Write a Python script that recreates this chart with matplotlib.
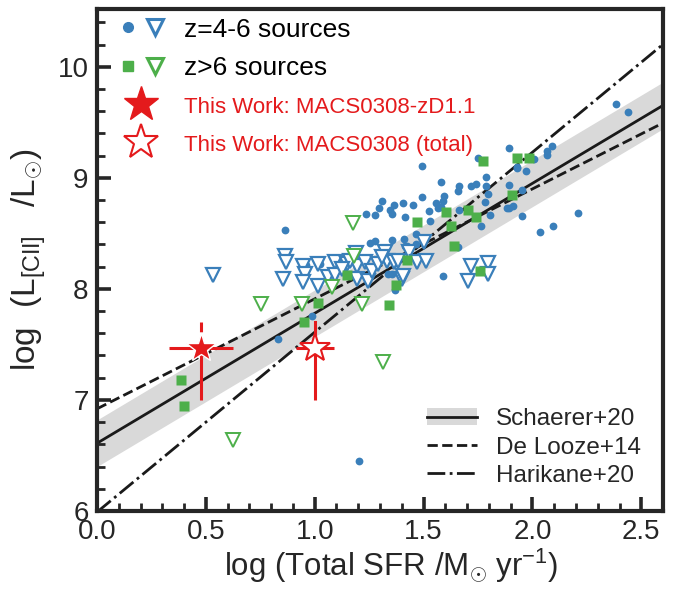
import numpy as np
import matplotlib
matplotlib.use("Agg")
import matplotlib.pyplot as plt
from matplotlib.lines import Line2D
from matplotlib.patches import Patch
from matplotlib.legend_handler import HandlerTuple
from matplotlib.ticker import MultipleLocator

plt.rcParams['font.family'] = ['Liberation Sans', 'DejaVu Sans']
plt.rcParams['mathtext.fontset'] = 'custom'
plt.rcParams['mathtext.rm'] = 'Liberation Sans'
plt.rcParams['mathtext.it'] = 'Liberation Sans:italic'
plt.rcParams['mathtext.bf'] = 'Liberation Sans:bold'

BLUE = '#3a7fba'
GREEN = '#4daf4a'
RED = '#e41a1c'
DARK = '#262626'

# ---------------- data ----------------
# z=4-6 detections (blue circles)
blue_det_x = [0.862, 0.830, 0.986, 1.202, 1.234, 1.275, 1.294, 1.307, 1.344, 1.353,
              1.362, 1.404, 1.413, 1.252, 1.275, 1.353, 1.408, 1.413, 1.110, 0.940,
              0.959, 1.023, 1.335, 1.367, 1.491, 1.578, 1.656, 1.665, 1.720, 1.743,
              1.789, 1.748, 1.894, 1.927, 1.972, 1.789, 1.794, 1.784, 1.894, 1.950,
              1.894, 1.913, 1.950, 1.495, 1.450, 1.523, 1.555, 1.587, 1.592, 1.564,
              1.528, 1.665, 1.766, 1.807, 1.463, 1.422, 1.656, 1.587, 2.385, 2.440,
              2.092, 2.069, 2.069, 2.005, 1.931, 2.211, 2.096, 2.037, 1.885, 1.578,
              1.463, 1.353]
blue_det_y = [8.534, 7.548, 7.756, 6.452, 8.670, 8.661, 8.724, 8.787, 8.706, 8.670,
              8.757, 8.769, 8.643, 8.416, 8.434, 8.443, 8.452, 8.389, 8.281, 8.226,
              8.217, 8.226, 8.136, 7.991, 9.104, 8.959, 8.878, 8.923, 8.923, 8.941,
              9.005, 9.176, 9.267, 9.086, 9.059, 8.923, 8.851, 8.778, 8.932, 8.887,
              8.724, 8.742, 8.652, 8.824, 8.751, 8.697, 8.769, 8.787, 8.833, 8.724,
              8.615, 8.706, 8.570, 8.661, 8.498, 8.389, 8.380, 8.118, 9.665, 9.593,
              9.285, 9.240, 9.204, 9.167, 9.095, 8.679, 8.570, 8.516, 8.724, 8.733,
              8.407, 8.136]

# z=4-6 upper limits (blue open triangles)
blue_lim_x = [0.532, 0.862, 0.867, 0.853, 0.945, 0.954, 0.945, 1.014, 1.014, 1.060,
              1.092, 1.092, 1.147, 1.188, 1.193, 1.193, 1.229, 1.243, 1.261, 1.289,
              1.321, 1.330, 1.362, 1.399, 1.431, 1.381, 1.500, 1.472, 1.509, 1.404,
              1.716, 1.702, 1.798, 1.798, 1.307, 1.161, 1.124]
blue_lim_y = [8.127, 8.299, 8.244, 8.090, 8.208, 8.136, 8.063, 8.226, 8.027, 8.109,
              8.244, 8.127, 8.226, 8.326, 8.208, 8.090, 8.244, 8.072, 8.163, 8.226,
              8.335, 8.253, 8.244, 8.090, 8.335, 8.253, 8.425, 8.244, 8.253, 8.118,
              8.208, 8.072, 8.235, 8.136, 8.290, 8.253, 8.181]

# z>6 detections (green squares)
green_det_x = [0.385, 0.399, 0.950, 1.014, 1.147, 1.372, 1.339, 1.422, 1.771, 1.931,
               1.982, 1.908, 1.601, 1.702, 1.743, 1.468, 1.628, 1.638, 1.757]
green_det_y = [7.176, 6.941, 7.701, 7.873, 8.127, 8.036, 7.855, 8.262, 9.149, 9.176,
               9.176, 8.842, 8.688, 8.706, 8.643, 8.606, 8.570, 8.389, 8.163]

# z>6 upper limits (green open triangles)
green_lim_x = [1.174, 0.752, 0.940, 1.078, 1.179, 1.216, 1.312, 0.624]
green_lim_y = [8.597, 7.864, 7.864, 8.018, 8.299, 7.864, 7.339, 6.643]

# This work: MACS0308-zD1.1 (filled) and MACS0308 total (open)
star_labels = ['This Work: MACS0308-zD1.1', 'This Work: MACS0308 (total)']
star_x = [0.477, 1.0]
star_y = [7.47, 7.47]
star_xerr = [0.147, 0.087]
star_yerr_lo = [0.47, 0.47]
star_yerr_hi = [0.23, 0.23]

# Literature relations: log L = icpt + slope * log SFR
rel_names = ['Schaerer+20', 'De Looze+14', 'Harikane+20']
rel_slope = [1.17, 0.99, 1.62]
rel_icpt = [6.61, 6.92, 5.99]
rel_ls = ['-', '--', '-.']
schaerer_scatter = 0.21

xlim = (0.0, 2.6)
ylim = (6.0, 10.52)
xticks = [0.0, 0.5, 1.0, 1.5, 2.0, 2.5]
yticks = [6, 7, 8, 9, 10]

# ---------------- figure ----------------
fig = plt.figure(figsize=(6.94, 5.95), dpi=100)
ax = fig.add_axes([0.1398, 0.1412, 0.8156, 0.8437])

xs = np.linspace(xlim[0], xlim[1], 200)
ys0 = rel_icpt[0] + rel_slope[0] * xs
ax.fill_between(xs, ys0 - schaerer_scatter, ys0 + schaerer_scatter,
                color='#d9d9d9', lw=0, zorder=1)
for s, c, ls in zip(rel_slope, rel_icpt, rel_ls):
    ax.plot(xs, c + s * xs, color='#1a1a1a', ls=ls, lw=2.0, zorder=2)

ax.plot(blue_det_x, blue_det_y, 'o', color=BLUE, ms=5.6, mec='none', zorder=3)
ax.plot(blue_lim_x, blue_lim_y, 'v', mfc='white', mec=BLUE, mew=1.6, ms=9.5, zorder=3)
ax.plot(green_lim_x, green_lim_y, 'v', mfc='white', mec=GREEN, mew=1.4, ms=9.5, zorder=3)
ax.plot(green_det_x, green_det_y, 's', color=GREEN, ms=7.2, mec='none', zorder=3.5)

for i in range(2):
    ax.errorbar(star_x[i], star_y[i], xerr=star_xerr[i],
                yerr=[[star_yerr_lo[i]], [0]], fmt='none', ecolor=RED,
                elinewidth=2.2, capsize=0, zorder=4)
    ax.plot([star_x[i], star_x[i]], [star_y[i], star_y[i] + star_yerr_hi[i]],
            color=RED, lw=2.2, ls='--' if i == 0 else '-', zorder=4)
ax.plot(star_x[0], star_y[0], '*', color=RED, ms=22, mec='white', mew=1.0, zorder=5)
ax.plot(star_x[1], star_y[1], '*', mfc='white', mec=RED, ms=22, mew=1.5, zorder=5)

ax.set_xlim(*xlim)
ax.set_ylim(*ylim)
ax.set_xticks(xticks)
ax.set_yticks(yticks)
ax.set_xticklabels([f'{v:.1f}' for v in xticks])
ax.set_yticklabels([str(v) for v in yticks])
ax.xaxis.set_minor_locator(MultipleLocator(0.1))
ax.yaxis.set_minor_locator(MultipleLocator(0.2))
ax.tick_params(which='both', direction='in', top=False, right=False,
               colors=DARK, labelsize=20)
ax.tick_params(which='major', length=10, width=2.6, pad=6)
ax.tick_params(which='minor', length=6, width=2.0)
for sp in ax.spines.values():
    sp.set_linewidth(3)
    sp.set_color(DARK)

ax.set_xlabel(r'log (Total SFR /M$_{\odot}$ yr$^{-1}$)', fontsize=22.5, color=DARK)
ax.xaxis.set_label_coords(0.520, -0.072)
ax.set_ylabel(r'log  (L$_{\rm [CII]}$   /L$_{\odot}$)', fontsize=24, color=DARK)
ax.yaxis.set_label_coords(-0.087, 0.5)

# upper-left legend
h_blue = (Line2D([], [], marker='o', ls='none', color=BLUE, ms=7),
          Line2D([], [], marker='v', ls='none', mfc='white', mec=BLUE, mew=2.2, ms=12))
h_green = (Line2D([], [], marker='s', ls='none', color=GREEN, ms=7.5),
           Line2D([], [], marker='v', ls='none', mfc='white', mec=GREEN, mew=2.2, ms=12))
h_s1 = Line2D([], [], marker='*', ls='none', color=RED, ms=26)
h_s2 = Line2D([], [], marker='*', ls='none', mfc='white', mec=RED, mew=1.5, ms=26)
leg1 = ax.legend([h_blue, h_green, h_s1, h_s2],
                 ['z=4-6 sources', 'z>6 sources', star_labels[0], star_labels[1]],
                 handler_map={tuple: HandlerTuple(ndivide=None, pad=0.0)},
                 loc='upper left', bbox_to_anchor=(-0.01, 1.03), frameon=False,
                 fontsize=19, handletextpad=0.6, labelspacing=0.55, handlelength=2.0)
for i, t in enumerate(leg1.get_texts()):
    if i >= 2:
        t.set_color(RED)
        t.set_fontsize(16)
    else:
        t.set_color('black')
ax.add_artist(leg1)

# lower-right legend
h_sch = (Patch(facecolor='#d9d9d9', edgecolor='none'),
         Line2D([], [], color='#1a1a1a', lw=2.0, ls=rel_ls[0]))
h_dl = Line2D([], [], color='#1a1a1a', lw=2.0, ls=rel_ls[1])
h_ha = Line2D([], [], color='#1a1a1a', lw=2.0, ls=rel_ls[2])
leg2 = ax.legend([h_sch, h_dl, h_ha], rel_names,
                 handler_map={tuple: HandlerTuple(ndivide=1)},
                 loc='lower right', bbox_to_anchor=(1.0, 0.005), frameon=False,
                 fontsize=17.5, handlelength=2.05, handletextpad=0.78, labelspacing=0.25)
for t in leg2.get_texts():
    t.set_color(DARK)

fig.savefig('out.png', dpi=100)
